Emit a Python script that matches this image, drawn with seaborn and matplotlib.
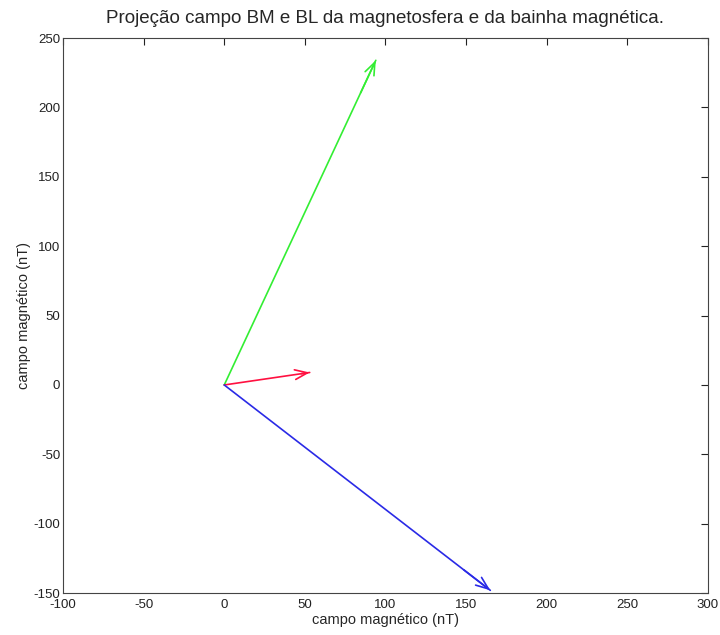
import numpy as np
import pandas as pd
import matplotlib
matplotlib.use("Agg")
import matplotlib.pyplot as plt
import seaborn as sns

# Vector components (nT)
names = ["verde", "vermelho", "azul"]
vx = [94, 53, 165]
vy = [234, 9, -148]
colors = ["#33ee33", "#ff1040", "#2a2ae6"]

xticks = [-100, -50, 0, 50, 100, 150, 200, 250, 300]
yticks = [-150, -100, -50, 0, 50, 100, 150, 200, 250]

sns.set_style("white")
plt.rcParams["font.family"] = ["Liberation Sans", "DejaVu Sans"]
plt.rcParams["axes.unicode_minus"] = False

rows = []
for n, x, y in zip(names, vx, vy):
    rows.append({"vetor": n, "x": 0.0, "y": 0.0, "ordem": 0})
    rows.append({"vetor": n, "x": x, "y": y, "ordem": 1})
df = pd.DataFrame(rows)

fig = plt.figure(figsize=(7.2, 6.35), dpi=100)
ax = fig.add_axes([0.0875, 0.066, 0.8958, 0.874])

sns.lineplot(data=df, x="x", y="y", hue="vetor", units="vetor", estimator=None,
             sort=False, palette=dict(zip(names, colors)), linewidth=1.2,
             legend=False, ax=ax)
for x, y, c in zip(vx, vy, colors):
    ax.annotate("", xy=(x, y), xytext=(x * 0.9, y * 0.9),
                arrowprops=dict(arrowstyle="->,head_length=0.9,head_width=0.35",
                                color=c, lw=1.2, shrinkA=0, shrinkB=0))

ax.set_xlim(-100, 300)
ax.set_ylim(-150, 250)
ax.set_xticks(xticks)
ax.set_yticks(yticks)
ax.tick_params(direction="in", length=5, width=0.8, labelsize=9.5, colors="#222222",
               top=True, right=True, pad=2)
ax.tick_params(axis="x", pad=4)
for s in ax.spines.values():
    s.set_visible(True)
    s.set_color("#444444")
    s.set_linewidth(0.8)
ax.set_xlabel("campo magnético (nT)", fontsize=10.5, labelpad=2)
ax.set_ylabel("campo magnético (nT)", fontsize=10.5, labelpad=2)
ax.set_title("Projeção campo BM e BL da magnetosfera e da bainha magnética.",
             fontsize=13.5, pad=11)

fig.savefig("out.png", dpi=100)
